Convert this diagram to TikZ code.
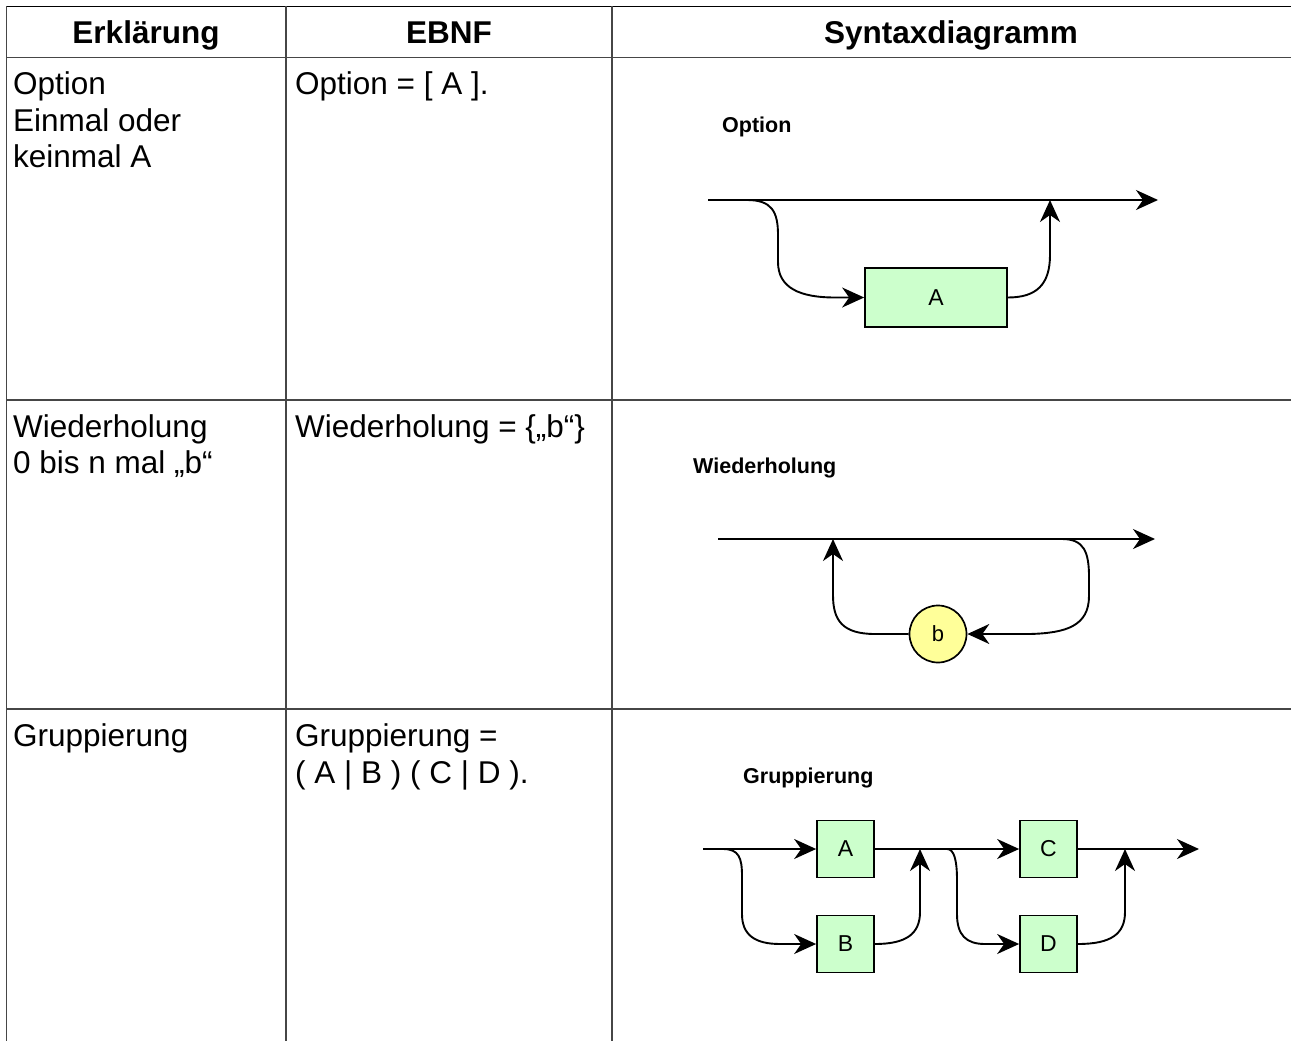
\documentclass[tikz,border=0pt]{standalone}
\usepackage{fontspec}
\setmainfont{Liberation Sans}
\usetikzlibrary{arrows.meta}
\definecolor{boxgreen}{RGB}{204,255,204}
\definecolor{circyellow}{RGB}{255,255,153}
\definecolor{rule}{RGB}{70,70,70}
\tikzset{
  cell/.style={inner sep=0pt, anchor=base west, font=\fontsize{31.5}{36}\selectfont},
  headtxt/.style={inner sep=0pt, anchor=base, font=\fontsize{31.5}{36}\selectfont\bfseries},
  dtitle/.style={inner sep=0pt, anchor=base west, font=\fontsize{21.5}{24}\selectfont\bfseries},
  termbox/.style={draw, line width=1.7pt, fill=boxgreen, minimum width=57pt, minimum height=57pt, inner sep=0pt, font=\fontsize{23}{26}\selectfont},
  termcirc/.style={draw, circle, line width=1.7pt, fill=circyellow, minimum size=57pt, inner sep=0pt, font=\fontsize{22}{26}\selectfont},
  conn/.style={line width=1.9pt, -{Stealth[length=22pt, width=20pt, inset=7pt]}},
  tabline/.style={line width=1.5pt, color=rule}
}
\begin{document}
\begin{tikzpicture}[x=1pt, y=-1pt]
\useasboundingbox (0,0) rectangle (1291,1041);
% table
\draw[line width=1.5pt, black] (6.5,6.5) -- (1291,6.5);
\draw[tabline] (6.5,6.5) -- (6.5,1041);
\draw[tabline] (286,6.5) -- (286,1041);
\draw[tabline] (612,6.5) -- (612,1041);
\draw[tabline] (6.5,57.5) -- (1291,57.5);
\draw[tabline] (6.5,400) -- (1291,400);
\draw[tabline] (6.5,709) -- (1291,709);
% headers
\node[headtxt] (h1) at (146,44) {Erklärung};
\node[headtxt] (h2) at (449,44) {EBNF};
\node[headtxt] (h3) at (951,44) {Syntaxdiagramm};
% row 1
\node[cell] (r1a) at (13,95) {Option};
\node[cell] (r1b) at (13,131) {Einmal oder};
\node[cell] (r1c) at (13,167) {keinmal A};
\node[cell] (r1e) at (295,95) {Option = [ A ].};
% row 2
\node[cell] (r2a) at (13,437) {Wiederholung};
\node[cell] (r2b) at (13,473) {0 bis n mal „b“};
\node[cell] (r2e) at (295,437) {Wiederholung = \{„b“\}};
% row 3
\node[cell] (r3a) at (13,746) {Gruppierung};
\node[cell] (r3e) at (295,746) {Gruppierung =};
\node[cell] (r3f) at (295,783) {( A | B ) ( C | D ).};

% ---- Option diagram
\node[dtitle] (t1) at (722,132) {Option};
\node[termbox, minimum width=142pt, minimum height=59pt] (oA) at (936,297.5) {A};
\coordinate (os) at (708,200);
\coordinate (oe) at (1158,200);
\coordinate (ob) at (747,200);
\coordinate (oj) at (1050,200);
\draw[conn] (os) -- (oe);
\draw[conn] (ob) .. controls (772,200) and (778,212) .. (778,235) -- (778,262)
  .. controls (778,288) and (800,297.5) .. (835,297.5) -- (oA.west);
\draw[conn] (oA.east) .. controls (1036,297.5) and (1050,285) .. (1050,255) -- (oj);

% ---- Wiederholung diagram
\node[dtitle] (t2) at (693,473) {Wiederholung};
\node[termcirc] (wb) at (938,634) {b};
\coordinate (ws) at (718,539);
\coordinate (we) at (1155,539);
\coordinate (wj) at (833,539);
\coordinate (wr) at (1062,539);
\draw[conn] (ws) -- (we);
\draw[conn] (wb.west) -- (875,634) .. controls (842,634) and (833,620) .. (833,595) -- (wj);
\draw[conn] (wr) .. controls (1084,539) and (1089,552) .. (1089,577) -- (1089,596)
  .. controls (1089,626) and (1066,633) .. (1030,634) -- (wb.east);

% ---- Gruppierung diagram
\node[dtitle] (t3) at (743,783) {Gruppierung};
\node[termbox] (gA) at (845.5,849) {A};
\node[termbox] (gB) at (845.5,944) {B};
\node[termbox] (gC) at (1048.5,849) {C};
\node[termbox] (gD) at (1048.5,944) {D};
\coordinate (gs) at (703,849);
\coordinate (ge) at (1199,849);
\coordinate (gb1) at (723,849);
\coordinate (gj1) at (920,849);
\coordinate (gb2) at (947,849);
\coordinate (gj2) at (1125,849);
\draw[conn] (gs) -- (gA.west);
\draw[conn] (gA.east) -- (gC.west);
\draw[conn] (gC.east) -- (ge);
\draw[conn] (gb1) .. controls (739,849) and (742,858) .. (742,876) -- (742,914)
  .. controls (742,935) and (755,944) .. (780,944) -- (gB.west);
\draw[conn] (gB.east) .. controls (906,944) and (920,934) .. (920,912) -- (gj1);
\draw[conn] (gb2) .. controls (954,849) and (957,860) .. (957,880) -- (957,914)
  .. controls (957,935) and (966,944) .. (985,944) -- (gD.west);
\draw[conn] (gD.east) .. controls (1111,944) and (1125,934) .. (1125,912) -- (gj2);
\end{tikzpicture}
\end{document}
